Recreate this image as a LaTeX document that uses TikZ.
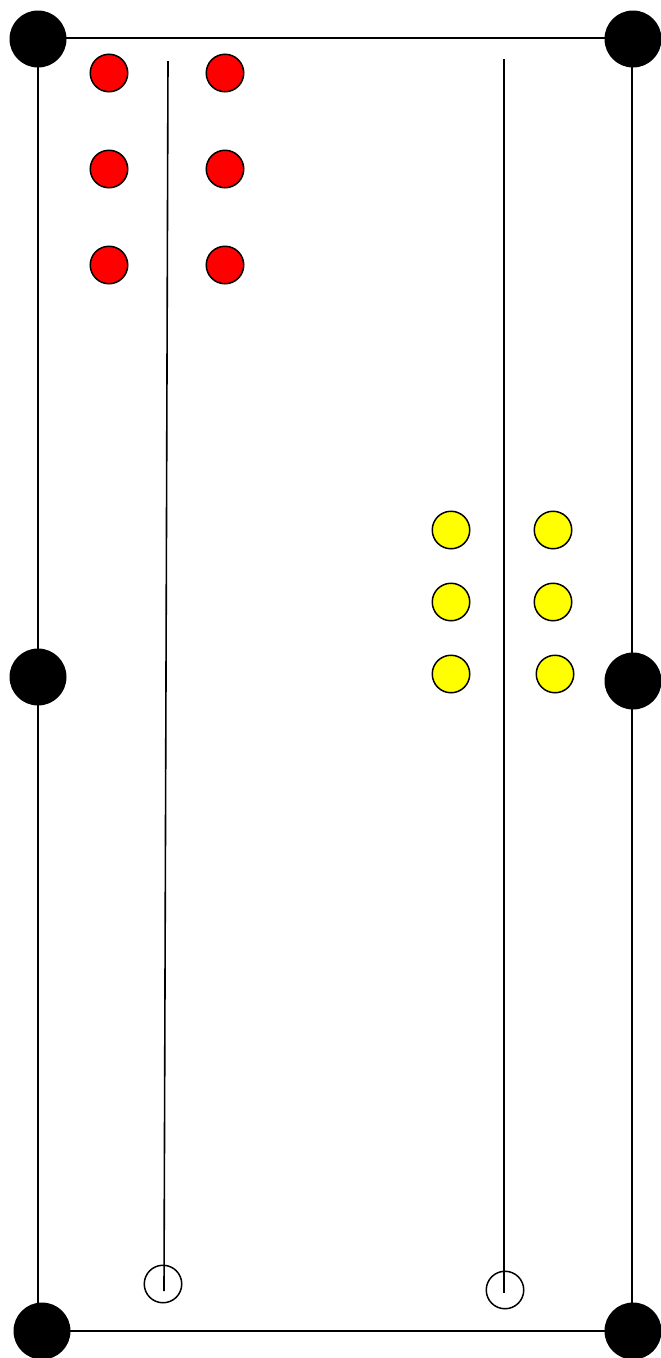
\documentclass[tikz,border=0pt]{standalone}
\definecolor{ballred}{RGB}{255,0,0}
\definecolor{ballyellow}{RGB}{255,255,0}
\begin{document}
\begin{tikzpicture}[
    x=1pt, y=-1pt,
    every path/.style={line width=1.6pt},
    pocket/.style={circle, fill=black, inner sep=0pt, minimum size=57pt},
    redball/.style={circle, draw, fill=ballred, inner sep=0pt, minimum size=37.5pt, line width=1.5pt},
    yelball/.style={circle, draw, fill=ballyellow, inner sep=0pt, minimum size=37.5pt, line width=1.5pt},
    cueball/.style={circle, draw, fill=white, inner sep=0pt, minimum size=37.5pt, line width=1.5pt}
]
\useasboundingbox (0,0) rectangle (661,1358);
% Rahmen
\coordinate (tlc) at (38,38);
\coordinate (trc) at (632,38);
\coordinate (mlc) at (38,677);
\coordinate (mrc) at (632,681);
\coordinate (blc) at (38,1331);
\coordinate (brc) at (632,1331);
\draw (tlc) -- (trc);
\draw (tlc) -- (blc);
\draw (trc) -- (brc);
\draw (blc) -- (brc);
% Queues
\coordinate (qa1) at (168,61);
\coordinate (qa2) at (164,1291);
\coordinate (qb1) at (504,59);
\coordinate (qb2) at (504,1293);
\node[cueball] (cba) at (163,1284) {};
\node[cueball] (cbb) at (505,1290) {};
\draw (qa1) -- (qa2);
\draw (qb1) -- (qb2);
% Taschen
\node[pocket] (tl) at (38,39) {};
\node[pocket] (tr) at (633,39) {};
\node[pocket] (ml) at (38,677) {};
\node[pocket] (mr) at (633,681) {};
\node[pocket] (bl) at (42,1331) {};
\node[pocket] (br) at (633,1331) {};
% Rote Kugeln
\node[redball] (r1) at (109,73) {};
\node[redball] (r2) at (225,73) {};
\node[redball] (r3) at (109,169) {};
\node[redball] (r4) at (225,169) {};
\node[redball] (r5) at (109,265) {};
\node[redball] (r6) at (225,265) {};
% Gelbe Kugeln
\node[yelball] (y1) at (451,530) {};
\node[yelball] (y2) at (553,530) {};
\node[yelball] (y3) at (451,602) {};
\node[yelball] (y4) at (553,602) {};
\node[yelball] (y5) at (451,674) {};
\node[yelball] (y6) at (555,674) {};
\end{tikzpicture}
\end{document}
